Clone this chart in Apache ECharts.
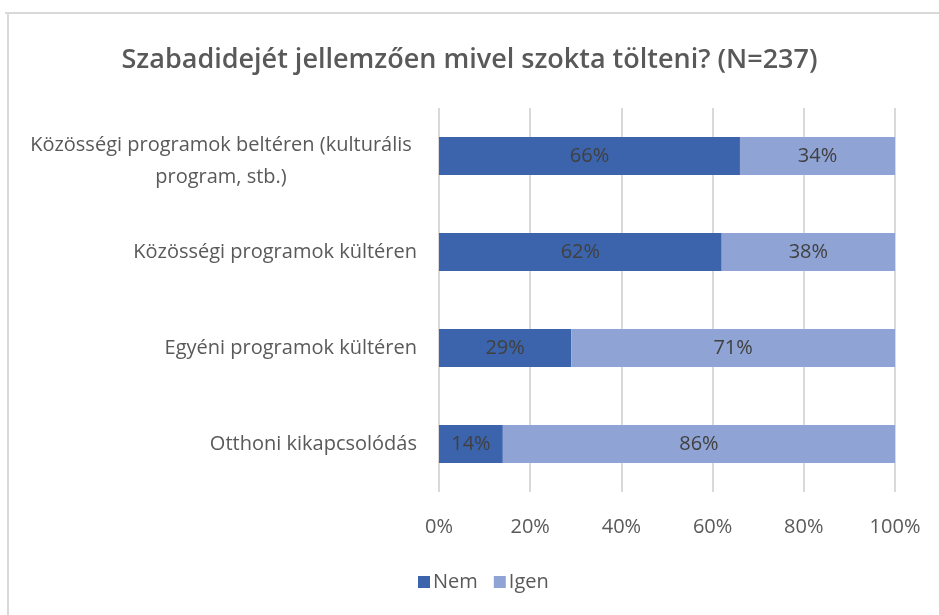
<!DOCTYPE html>
<html>
<head>
<meta charset="utf-8">
<script src="https://cdn.jsdelivr.net/npm/echarts@6/dist/echarts.min.js"></script>
<style>
  html, body { margin: 0; padding: 0; background: #fff; }
  #main { width: 939px; height: 615px; }
</style>
</head>
<body>
<div id="main"></div>
<script>
  // kategóriák felülről lefelé
  var categories = [
    "Közösségi programok beltéren (kulturális\nprogram, stb.)",
    "Közösségi programok kültéren",
    "Egyéni programok kültéren",
    "Otthoni kikapcsolódás"
  ];
  var nemValues = [66, 62, 29, 14];
  var igenValues = [34, 38, 71, 86];
  var xTicks = [0, 20, 40, 60, 80, 100];

  var chartDom = document.getElementById("main");
  var myChart = echarts.init(chartDom);

  var fontFamily = "'Open Sans', 'Noto Sans', sans-serif";

  var option = {
    animation: false,
    title: {
      text: "Szabadidejét jellemzően mivel szokta tölteni? (N=237)",
      left: "center",
      top: 42,
      textStyle: {
        fontFamily: fontFamily,
        fontSize: 27,
        fontWeight: 600,
        color: "#595959"
      }
    },
    legend: {
      data: ["Nem", "Igen"],
      top: 567,
      left: 413,
      itemWidth: 12,
      itemHeight: 12,
      itemGap: 16,
      icon: "rect",
      textStyle: { fontFamily: fontFamily, fontSize: 20, color: "#595959", padding: [0, 0, 0, -2] }
    },
    graphic: [
      { type: "rect", shape: { x: 5, y: 12, width: 934, height: 2 }, style: { fill: "#d9d9d9" } },
      { type: "rect", shape: { x: 7, y: 12, width: 2, height: 603 }, style: { fill: "#d9d9d9" } }
    ],
    grid: { left: 439, right: 44, top: 108, bottom: 123, containLabel: false },
    xAxis: {
      type: "value",
      min: 0,
      max: 100,
      interval: 20,
      axisLine: { show: false },
      axisTick: { show: false },
      splitLine: { lineStyle: { color: "#d9d9d9", width: 2 } },
      axisLabel: {
        formatter: function (v) { return xTicks.indexOf(v) >= 0 ? v + "%" : ""; },
        margin: 25,
        fontFamily: fontFamily,
        fontSize: 20,
        color: "#595959"
      }
    },
    yAxis: {
      type: "category",
      inverse: true,
      data: categories,
      axisLine: { show: false },
      axisTick: { show: false },
      axisLabel: {
        margin: 22,
        fontFamily: fontFamily,
        fontSize: 20,
        color: "#595959",
        formatter: function (v) {
          if (v.indexOf("\n") < 0) return v;
          return v.split("\n").map(function (s) { return "{c|" + s + "}"; }).join("\n");
        },
        rich: {
          c: {
            width: 392,
            align: "center",
            fontFamily: fontFamily,
            fontSize: 20,
            lineHeight: 32,
            color: "#595959",
            padding: [10, 0, 0, 0]
          }
        }
      }
    },
    series: [
      {
        name: "Nem",
        type: "bar",
        stack: "total",
        barWidth: 38,
        data: nemValues,
        itemStyle: { color: "#3b64ad" },
        label: {
          show: true,
          position: "inside",
          formatter: "{c}%",
          fontFamily: fontFamily,
          fontSize: 20,
          color: "#404040"
        }
      },
      {
        name: "Igen",
        type: "bar",
        stack: "total",
        barWidth: 38,
        data: igenValues,
        itemStyle: { color: "#8fa4d4" },
        label: {
          show: true,
          position: "inside",
          formatter: "{c}%",
          fontFamily: fontFamily,
          fontSize: 20,
          color: "#404040"
        }
      }
    ]
  };

  myChart.setOption(option);
</script>
</body>
</html>
